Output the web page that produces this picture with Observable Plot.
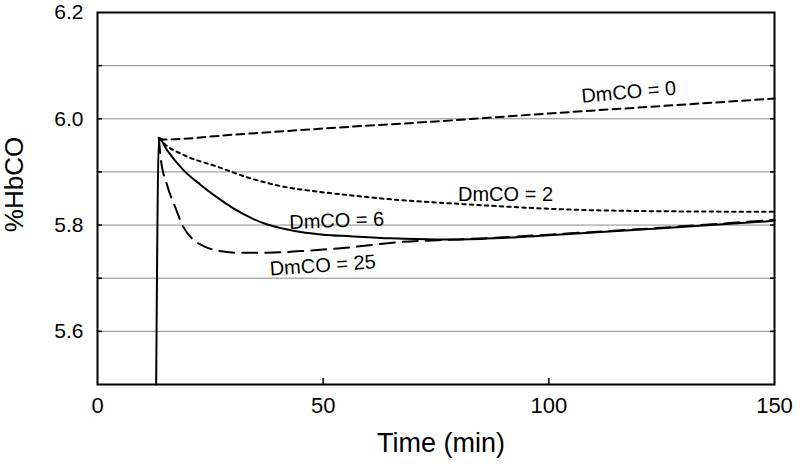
<!DOCTYPE html>
<html>
<head>
<meta charset="utf-8">
<script src="https://cdn.jsdelivr.net/npm/d3@7"></script>
<script src="https://cdn.jsdelivr.net/npm/@observablehq/plot@0.6"></script>
<style>
  html, body { margin: 0; padding: 0; background: #fff; }
  #chart { width: 800px; height: 465px; }
</style>
</head>
<body>
<div id="chart"></div>
<script>
// ---- data ----
const xTicks = [0, 50, 100, 150];
const yLabelTicks = [5.6, 5.8, 6.0, 6.2];
const yGridTicks = [5.6, 5.7, 5.8, 5.9, 6.0, 6.1];
const xTickMarks = [50, 100];

// DmCO = 0 (dashed)
const t0 = [13.6, 14.5, 30, 56, 75, 100, 125, 150];
const v0 = [5.964, 5.961, 5.970, 5.985, 5.995, 6.010, 6.024, 6.038];

// DmCO = 2 (dotted)
const t2 = [13.6, 14.7, 19.1, 26.5, 33.9, 41.3, 48.7, 56, 67, 78, 90, 102, 125, 150];
const v2 = [5.964, 5.954, 5.932, 5.910, 5.888, 5.872, 5.863, 5.856, 5.847, 5.841, 5.835, 5.830, 5.826, 5.825];

// DmCO = 6 (solid, includes the initial rise)
const t6 = [13, 13.6, 15.4, 19.1, 22.8, 26.5, 30.2, 33.9, 37.6, 41.3, 45, 50, 56, 65, 75, 85, 100, 125, 150];
const v6 = [5.5, 5.964, 5.941, 5.903, 5.876, 5.852, 5.831, 5.814, 5.801, 5.793, 5.787, 5.782, 5.779, 5.775, 5.773, 5.774, 5.781, 5.794, 5.808];

// DmCO = 25 (long dashes)
const t25 = [13.6, 14, 15.4, 17.3, 18.8, 21.3, 23.6, 26.5, 31, 37.6, 45, 54.5, 67, 80, 90, 100, 125, 150];
const v25 = [5.964, 5.926, 5.876, 5.832, 5.800, 5.772, 5.760, 5.752, 5.748, 5.748, 5.751, 5.757, 5.768, 5.773, 5.777, 5.782, 5.795, 5.810];

// curve labels (text, anchor point in data units, tilt)
const labelText = ["DmCO = 0", "DmCO = 2", "DmCO = 6", "DmCO = 25"];
const labelT = [117.7, 90.4, 53, 49.9];
const labelV = [6.05, 5.857, 5.808, 5.724];
const labelRot = [-5, 0, -2, -4];

const yTitle = "%HbCO";
const xTitle = "Time (min)";

// ---- build tables ----
const mk = (ts, vs) => ts.map((t, i) => ({t, v: vs[i]}));
const s0 = mk(t0, v0), s2 = mk(t2, v2), s6 = mk(t6, v6), s25 = mk(t25, v25);
const labels = labelText.map((text, i) => ({text, t: labelT[i], v: labelV[i], r: labelRot[i]}));

const font = "Liberation Sans, Arial, Helvetica, sans-serif";

const chart = Plot.plot({
  width: 800,
  height: 465,
  marginLeft: 97,
  marginRight: 26,
  marginTop: 12,
  marginBottom: 81,
  style: {fontFamily: font, background: "#fff", color: "#000"},
  x: {domain: [0, 150]},
  y: {domain: [5.5, 6.2]},
  marks: [
    Plot.gridY(yGridTicks, {stroke: "#8a8a8a", strokeOpacity: 1, strokeWidth: 1}),
    Plot.axisY(yLabelTicks, {anchor: "left", tickSize: 0, tickPadding: 14, fontSize: 21, tickFormat: d3.format(".1f"), label: null}),
    Plot.axisY(yGridTicks, {anchor: "left", tickSize: -5, text: null, label: null, strokeWidth: 1.5}),
    Plot.axisY(yGridTicks, {anchor: "right", tickSize: -5, text: null, label: null, strokeWidth: 1.5}),
    Plot.axisX(xTicks, {anchor: "bottom", tickSize: 0, tickPadding: 13, fontSize: 22, label: null}),
    Plot.axisX(xTickMarks, {anchor: "bottom", tickSize: -6, text: null, label: null, strokeWidth: 1.5}),
    Plot.line(s0, {x: "t", y: "v", stroke: "#000", strokeWidth: 2, strokeDasharray: "8,5", curve: "monotone-x"}),
    Plot.line(s2, {x: "t", y: "v", stroke: "#000", strokeWidth: 2, strokeDasharray: "3.5,4", curve: "monotone-x"}),
    Plot.line(s25, {x: "t", y: "v", stroke: "#000", strokeWidth: 2, strokeDasharray: "15,8", curve: "monotone-x"}),
    Plot.line(s6, {x: "t", y: "v", stroke: "#000", strokeWidth: 2, curve: "monotone-x"}),
    Plot.text(labels, {x: "t", y: "v", text: "text", rotate: "r", fontSize: 20, fill: "#000", textAnchor: "middle", lineAnchor: "middle"}),
    Plot.text([yTitle], {frameAnchor: "left", dx: -83, dy: -14, rotate: -90, fontSize: 26, fill: "#000", textAnchor: "middle", lineAnchor: "middle"}),
    Plot.text([xTitle], {frameAnchor: "bottom", dx: 5, dy: 59, fontSize: 27, fill: "#000", textAnchor: "middle", lineAnchor: "middle"}),
    Plot.frame({stroke: "#000", strokeWidth: 2})
  ]
});
document.getElementById("chart").appendChild(chart);
</script>
</body>
</html>
